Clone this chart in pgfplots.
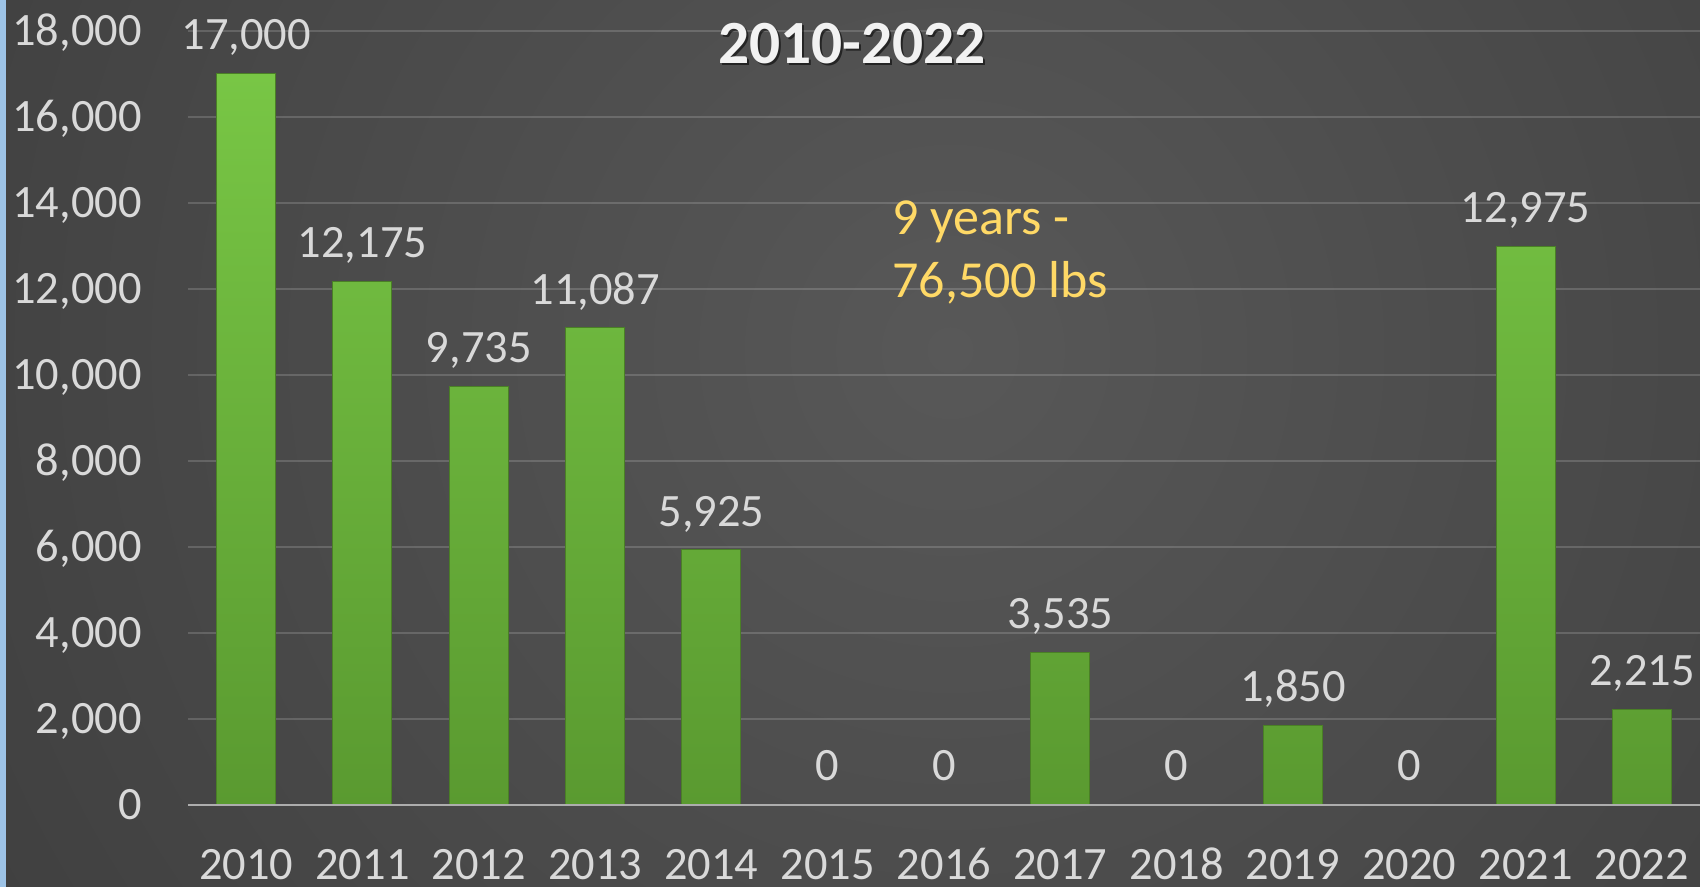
\documentclass[border=0pt]{standalone}
\usepackage{pgfplots}
\pgfplotsset{compat=1.18}
\usepackage{pgfplotstable}
\usepackage{fontspec}
\setmainfont{Carlito}
\definecolor{bgin}{HTML}{585858}
\definecolor{bgout}{HTML}{2A2A2A}
\definecolor{edgeblue}{HTML}{9DC3E6}
\definecolor{lbl}{HTML}{D9D9D9}
\definecolor{titlec}{HTML}{F2F2F2}
\definecolor{ann}{HTML}{FFD966}
\definecolor{bartop}{HTML}{78C645}
\definecolor{barbot}{HTML}{5A9A30}
\definecolor{baredge}{HTML}{4A7F26}
\definecolor{zeroline}{HTML}{ADADAD}

\pgfplotstableread{
x year value
0 2010 17000
1 2011 12175
2 2012 9735
3 2013 11087
4 2014 5925
5 2015 0
6 2016 0
7 2017 3535
8 2018 0
9 2019 1850
10 2020 0
11 2021 12975
12 2022 2215
}\datatable

\begin{document}
\begin{tikzpicture}
\path[use as bounding box] (0,0) rectangle (850pt,443.5pt);
\begin{scope}
\clip (0,0) rectangle (850pt,443.5pt);
\shade[inner color=bgin, outer color=bgout] (475pt,268.5pt) circle (1050pt);
\end{scope}
\fill[edgeblue] (0,0) rectangle (3pt,443.5pt);
\begin{axis}[
  at={(94pt,41.15pt)}, anchor=south west,
  scale only axis, width=756pt, height=387pt,
  xmin=-0.5, xmax=12.5, ymin=0, ymax=18000,
  xtick={0,1,2,3,4,5,6,7,8,9,10,11,12},
  xticklabels={2010,2011,2012,2013,2014,2015,2016,2017,2018,2019,2020,2021,2022},
  ytick={0,2000,4000,6000,8000,10000,12000,14000,16000,18000},
  ymajorgrids,
  grid style={draw=white, draw opacity=0.16, line width=1pt},
  axis line style={draw=none},
  major tick length=0pt,
  scaled y ticks=false,
  /pgf/number format/fixed,
  /pgf/number format/1000 sep={,},
  /pgf/number format/assume math mode=true,
  tick label style={font=\fontsize{23.2}{28}\selectfont, text=lbl},
  xticklabel style={anchor=base, yshift=-37.5pt, inner sep=0pt},
  yticklabel style={anchor=base east, yshift=-7.3pt, xshift=-23pt, inner sep=0pt},
  clip=false,
]
\addplot[ybar, bar width=29.5pt, bar shift=0pt, draw=baredge, line width=0.5pt,
  top color=bartop, bottom color=barbot, restrict y to domain=1:20000]
  table[x=x, y=value] {\datatable};
\addplot[draw=none, mark=none, nodes near coords,
  nodes near coords style={anchor=base, yshift=11.9pt, inner sep=0pt,
    font=\fontsize{23.2}{28}\selectfont, text=lbl}]
  table[x=x, y=value] {\datatable};
\draw[zeroline, line width=0.9pt] (axis cs:-0.5,0) -- (axis cs:12.5,0);
\end{axis}
\node[anchor=base, text=black, opacity=0.55, font=\bfseries\fontsize{30.7}{36}\selectfont] at (427pt,410.5pt) {2010-2022};
\node[anchor=base, text=titlec, font=\bfseries\fontsize{30.7}{36}\selectfont] at (426pt,411.5pt) {2010-2022};
\node[anchor=base west, inner sep=0pt, text=ann, font=\fontsize{26}{31}\selectfont] at (446pt,326pt) {9 years -};
\node[anchor=base west, inner sep=0pt, text=ann, font=\fontsize{26}{31}\selectfont] at (446pt,294.5pt) {76,500 lbs};
\end{tikzpicture}
\end{document}
